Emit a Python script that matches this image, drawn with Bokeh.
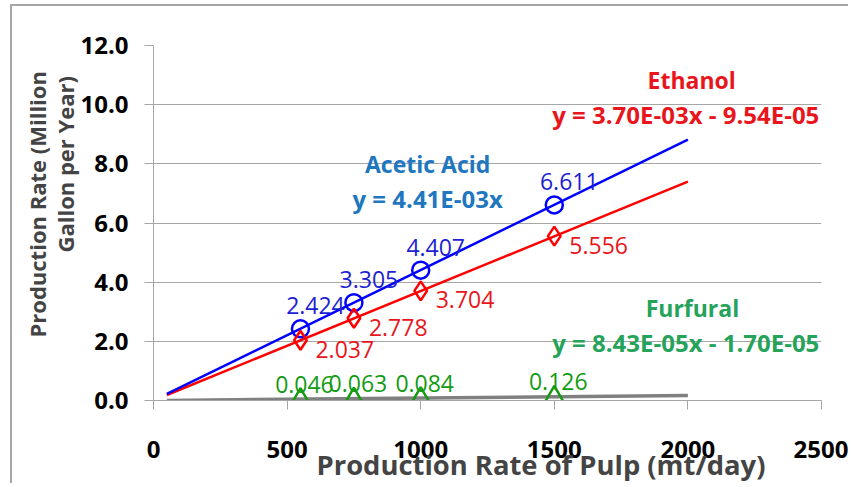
import numpy as np
from bokeh.plotting import figure
from bokeh.models import ColumnDataSource, LabelSet, Label, FixedTicker, NumeralTickFormatter, Range1d, Title
from bokeh.core.properties import value
from bokeh.embed import file_html
from bokeh.resources import INLINE

# ---- data ----
pulp_rate = [550, 750, 1000, 1500]
acetic = [2.424, 3.305, 4.407, 6.611]
ethanol = [2.037, 2.778, 3.704, 5.556]
furfural = [0.046, 0.063, 0.084, 0.126]
acetic_text = ["2.424", "3.305", "4.407", "6.611"]
ethanol_text = ["2.037", "2.778", "3.704", "5.556"]
furfural_text = ["0.046", "0.063", "0.084", "0.126"]

trend_x = [50, 2000]
acetic_fit = (4.41e-3, 0.0)
ethanol_fit = (3.70e-3, -9.54e-5)
furfural_fit = (8.43e-5, -1.70e-5)

x_ticks = [0, 500, 1000, 1500, 2000, 2500]
y_ticks = [0, 2, 4, 6, 8, 10, 12]

FONT = "Open Sans"
BLUE = "#0000ff"
BLUE_LBL = "#1e1ed2"
RED = "#ff0000"
RED_LBL = "#e8161c"
GREEN = "#139b13"
GREEN_EQ = "#25a35a"
ACETIC_EQ = "#1f77c0"
GRID = "#a6a6a6"

p = figure(width=838, height=479, x_range=Range1d(0, 2500), y_range=Range1d(0, 12),
           output_backend="svg", toolbar_location=None,
           min_border_left=141, min_border_right=29, min_border_top=39, min_border_bottom=85)
p.outline_line_color = None
p.background_fill_color = "white"
p.border_fill_color = "white"
p.styles = {"margin-left": "10px", "margin-top": "4px",
            "border-left": "2px solid #a6a6a6", "border-top": "2px solid #a6a6a6"}

for ax in (p.xaxis, p.yaxis):
    ax.axis_line_color = GRID
    ax.major_tick_line_color = GRID
    ax.major_tick_in = 0
    ax.major_tick_out = 9
    ax.minor_tick_line_color = None
    ax.major_label_text_font = FONT
    ax.major_label_text_color = "black"
    ax.major_label_text_font_style = "bold"
    ax.major_label_text_font_size = "24px"

p.xaxis.ticker = FixedTicker(ticks=x_ticks)
p.yaxis.ticker = FixedTicker(ticks=y_ticks)
p.yaxis.formatter = NumeralTickFormatter(format="0.0")
p.xaxis.major_label_standoff = 31
p.yaxis.major_label_standoff = 16

p.xgrid.visible = False
p.ygrid.ticker = FixedTicker(ticks=y_ticks)
p.ygrid.grid_line_color = GRID
p.ygrid.grid_line_width = 1

# trendlines
def fit_line(fit):
    return [fit[0] * x + fit[1] for x in trend_x]

p.line(trend_x, fit_line(furfural_fit), line_color="#808080", line_width=3.5)
p.line(trend_x, fit_line(ethanol_fit), line_color=RED, line_width=2.5)
p.line(trend_x, fit_line(acetic_fit), line_color=BLUE, line_width=2.5)

src = ColumnDataSource(dict(x=pulp_rate, a=acetic, e=ethanol, f=furfural,
                            at=acetic_text, et=ethanol_text, ft=furfural_text))

p.scatter("x", "a", source=src, marker="circle", size=17, fill_color=None,
          line_color=BLUE, line_width=2.5)
p.scatter("x", "e", source=src, marker="diamond", size=19, fill_color=None,
          line_color=RED, line_width=2.5)
p.scatter("x", "f", source=src, marker="triangle", size=19, fill_color=None,
          line_color=GREEN, line_width=2.5)

LBL_SIZE = "23px"
p.add_layout(LabelSet(x="x", y="a", text="at", source=src, x_offset=15, y_offset=23,
                      text_align="center", text_baseline="middle", text_font=value(FONT),
                      text_font_size=LBL_SIZE, text_color=BLUE_LBL))
p.add_layout(LabelSet(x="x", y="e", text="et", source=src, x_offset=15, y_offset=-9,
                      text_align="left", text_baseline="middle", text_font=value(FONT),
                      text_font_size=LBL_SIZE, text_color=RED_LBL))
p.add_layout(LabelSet(x="x", y="f", text="ft", source=src, x_offset=4, y_offset=15,
                      text_align="center", text_baseline="middle", text_font=value(FONT),
                      text_font_size=LBL_SIZE, text_color=GREEN))

def note(x, y, text, color, size):
    p.add_layout(Label(x=x, y=y, text=text, text_color=color, text_font=FONT,
                       text_font_size=size, text_font_style="bold",
                       text_align="center", text_baseline="middle"))

note(2014, 10.82, "Ethanol", RED_LBL, "23px")
note(1992, 9.67, "y = 3.70E-03x - 9.54E-05", RED_LBL, "24px")
note(1026, 7.98, "Acetic Acid", ACETIC_EQ, "23px")
note(1026, 6.83, "y = 4.41E-03x", ACETIC_EQ, "24px")
note(2017, 3.11, "Furfural", GREEN_EQ, "23px")
note(1992, 1.96, "y = 8.43E-05x - 1.70E-05", GREEN_EQ, "24px")

# axis titles
p.add_layout(Title(text="Production Rate of Pulp (mt/day)", align="left", offset=163,
                   vertical_align="top", text_font=FONT, text_font_size="27.4px",
                   text_font_style="bold", standoff=-30), "below")
p.add_layout(Title(text="Gallon per Year)", align="left", offset=148,
                   text_font=FONT, text_font_size="22px", text_font_style="bold",
                   standoff=-4), "left")
p.add_layout(Title(text="Production Rate (Million", align="left", offset=63,
                   text_font=FONT, text_font_size="22px", text_font_style="bold",
                   standoff=-4), "left")

open("out.html", "w").write(file_html(p, INLINE))
